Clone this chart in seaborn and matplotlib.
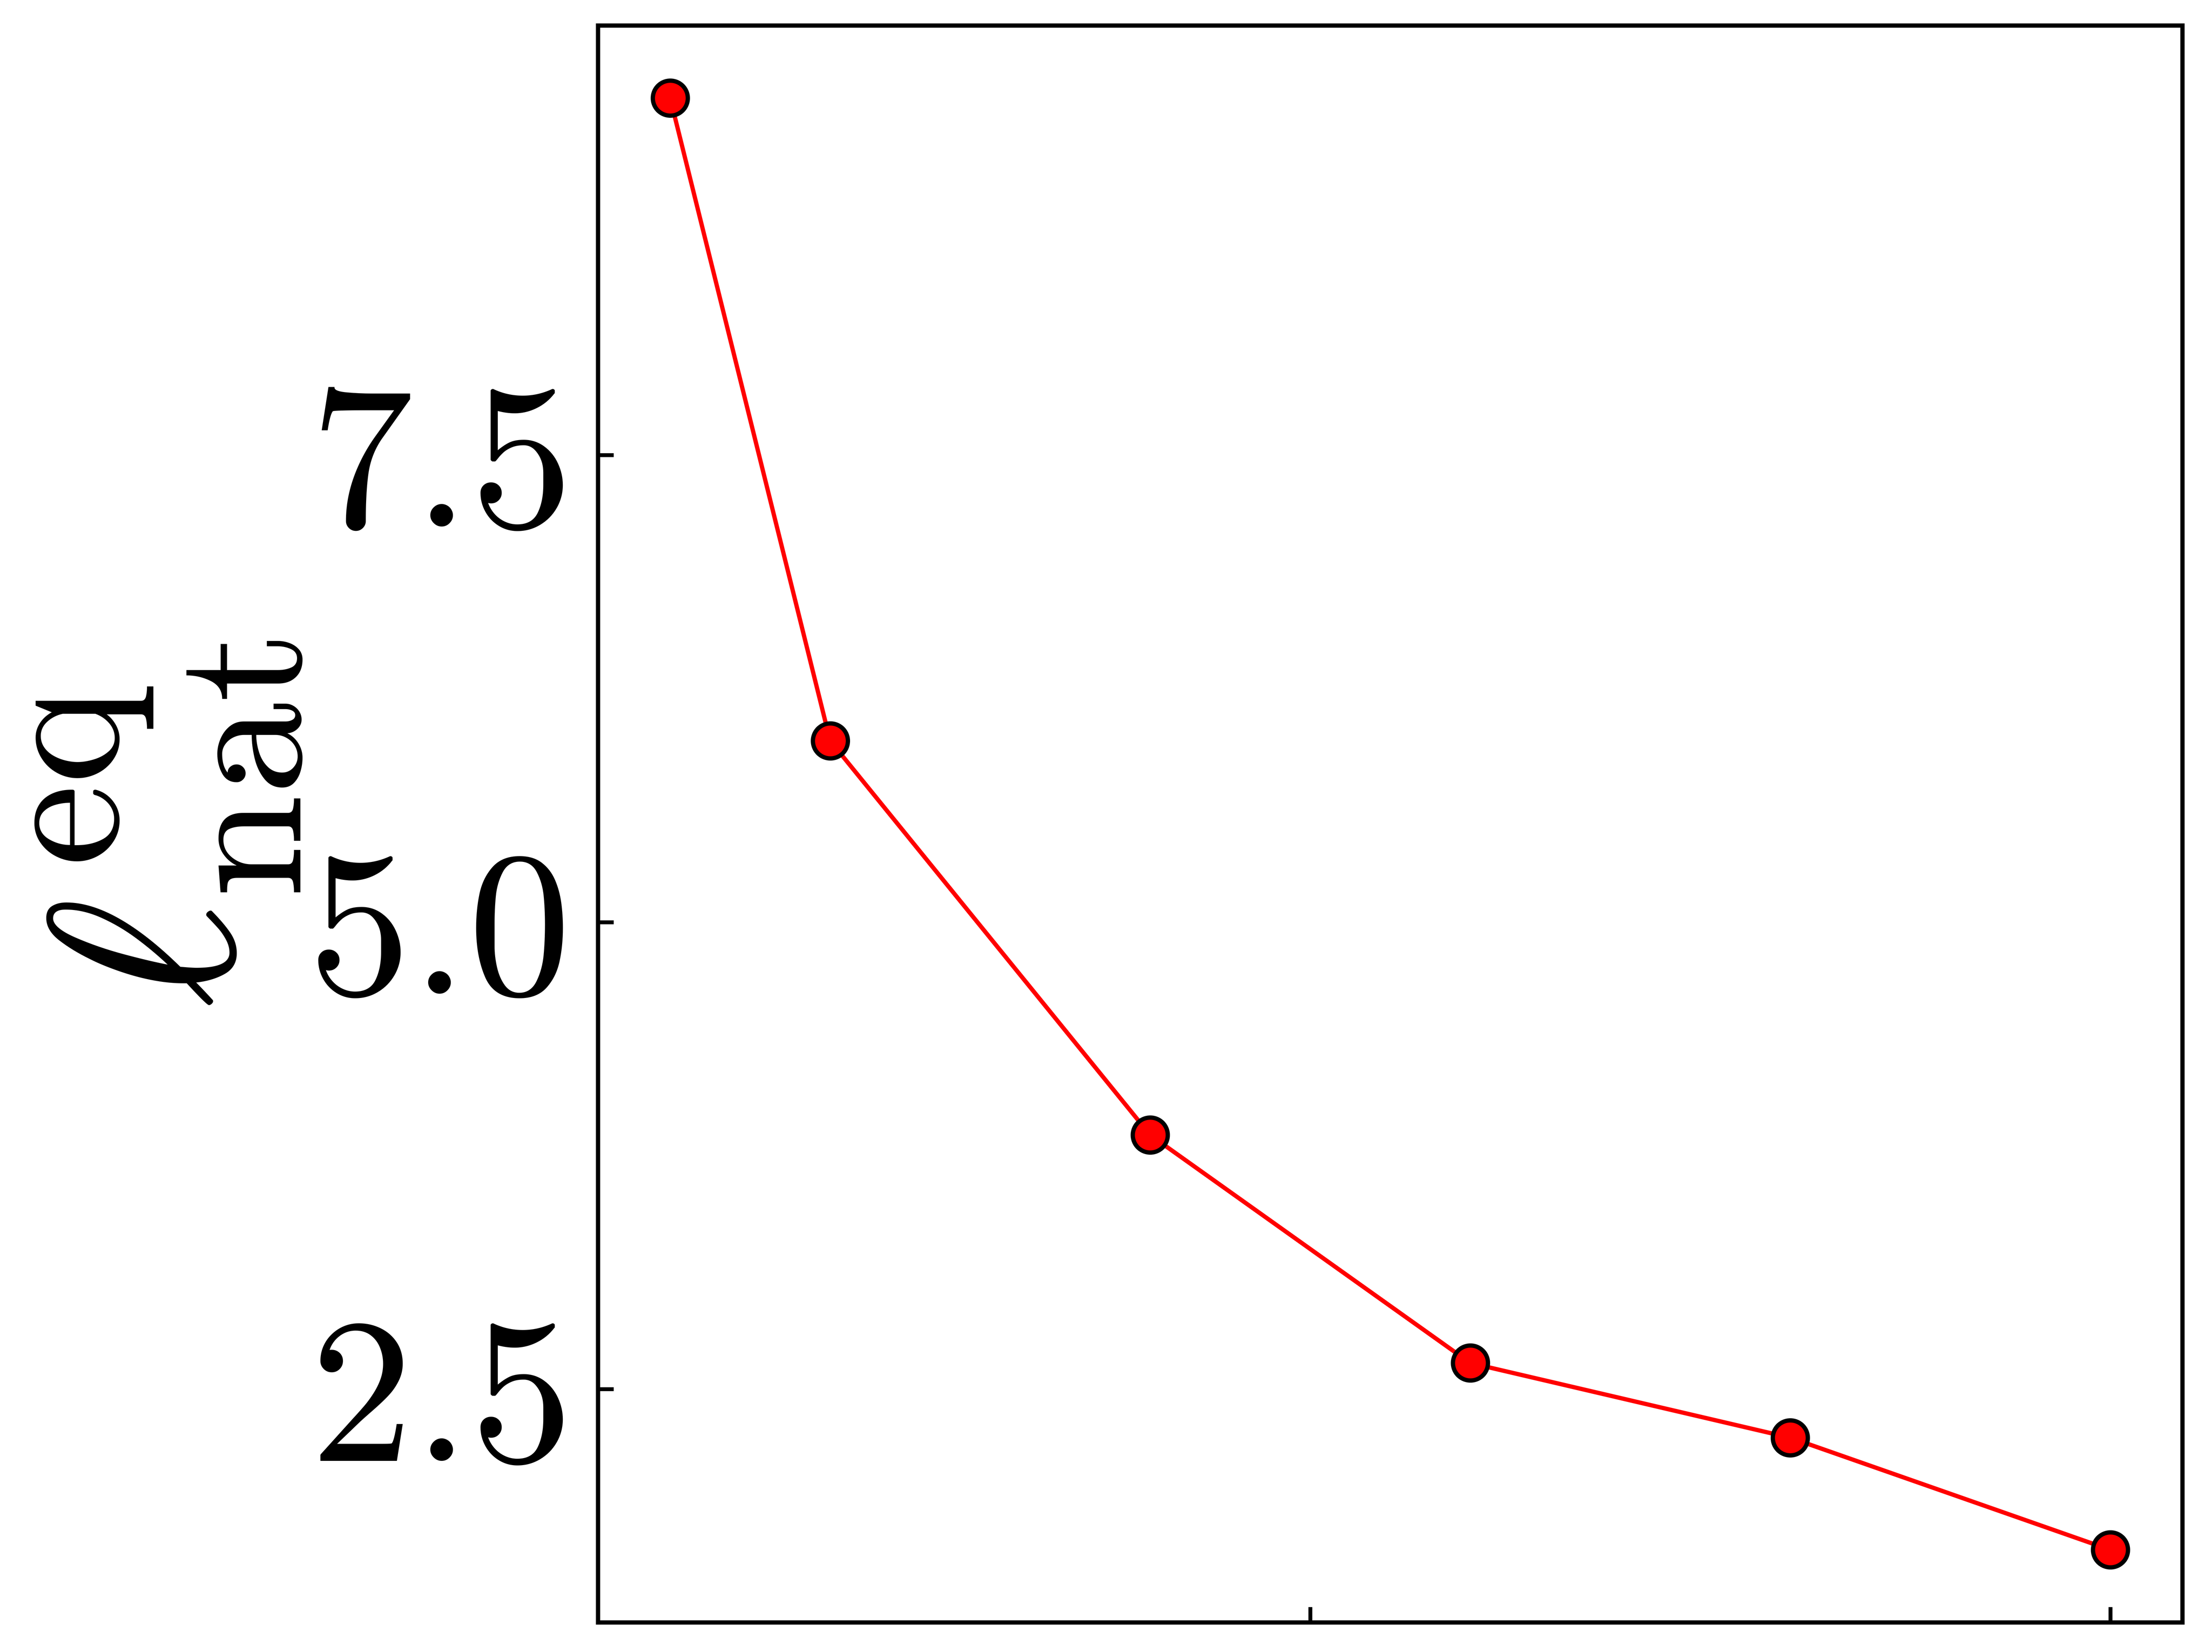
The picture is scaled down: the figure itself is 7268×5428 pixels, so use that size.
import numpy as np
import pandas as pd
import matplotlib
matplotlib.use("Agg")
import matplotlib.pyplot as plt
import seaborn as sns
from matplotlib.ticker import FuncFormatter

# values
x_vals = [0.5, 1.0, 2.0, 3.0, 4.0, 5.0]
ell_vals = [9.41, 5.97, 3.86, 2.64, 2.24, 1.64]
y_ticks = [2.5, 5.0, 7.5]
x_ticks = [2.5, 5.0]

df = pd.DataFrame({"x": x_vals, "ell": ell_vals})

sns.set_style("ticks")
plt.rcParams["font.family"] = "serif"
plt.rcParams["font.serif"] = ["cmr10"]
plt.rcParams["mathtext.fontset"] = "cm"
plt.rcParams["axes.formatter.use_mathtext"] = True
plt.rcParams["text.color"] = "black"
plt.rcParams["axes.labelcolor"] = "black"
plt.rcParams["xtick.color"] = "black"
plt.rcParams["ytick.color"] = "black"
plt.rcParams["axes.edgecolor"] = "black"

fig = plt.figure(figsize=(15.8, 11.8))
ax = fig.add_axes([0.2704, 0.0179, 0.7162, 0.9667])

sns.lineplot(data=df, x="x", y="ell", ax=ax, color="red", lw=2.2,
             marker="o", markersize=18, markerfacecolor="red",
             markeredgecolor="black", markeredgewidth=2.2)

ax.set_yticks(y_ticks)
ax.set_xticks(x_ticks)
ax.set_xticklabels([])
ax.yaxis.set_major_formatter(FuncFormatter(lambda v, p: f"${v:.1f}$"))
ax.tick_params(direction="in", length=8, width=2, labelsize=106, pad=18)

for s in ax.spines.values():
    s.set_linewidth(2.2)
    s.set_visible(True)

ax.set_xlabel("")
ax.set_ylabel(r"$\ell^{\rm eq}_{\rm nat}$", fontsize=136, labelpad=2)

# pixel cap of the checker is 40M, so stay just under it
fig.savefig("out.png", dpi=460)
